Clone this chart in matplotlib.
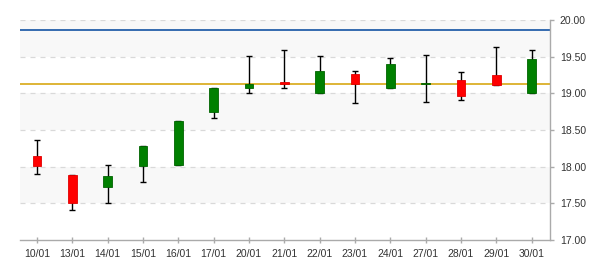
import matplotlib
matplotlib.use("Agg")
import matplotlib.pyplot as plt
from matplotlib.patches import Rectangle

dates = ["10/01", "13/01", "14/01", "15/01", "16/01", "17/01", "20/01", "21/01",
         "22/01", "23/01", "24/01", "27/01", "28/01", "29/01", "30/01"]
opens  = [18.15, 17.885, 17.716, 18.003, 18.016, 18.74, 19.068, 19.15, 19.0, 19.269, 19.068, 19.123, 19.187, 19.255, 19.0]
closes = [18.003, 17.50, 17.872, 18.286, 18.618, 19.078, 19.133, 19.123, 19.31, 19.123, 19.406, 19.146, 18.959, 19.109, 19.474]
highs  = [18.363, 17.885, 18.022, 18.286, 18.627, 19.078, 19.515, 19.593, 19.515, 19.306, 19.484, 19.525, 19.296, 19.634, 19.593]
lows   = [17.903, 17.407, 17.503, 17.79, 18.016, 18.664, 19.005, 19.074, 19.0, 18.869, 19.068, 18.883, 18.91, 19.109, 19.0]
line_blue = 19.866
line_gold = 19.128
y_ticks = [17.0, 17.5, 18.0, 18.5, 19.0, 19.5, 20.0]

plt.rcParams['font.family'] = ['Liberation Sans', 'DejaVu Sans']

fig = plt.figure(figsize=(6, 2.7), dpi=100)
ax = fig.add_axes([20/600, 1-240/270, 530/600, 220/270])
ax.set_xlim(-0.48, 14.52)
ax.set_ylim(17.0, 20.0)

# alternating bands
for i in range(len(y_ticks) - 1):
    lo, hi = y_ticks[i], y_ticks[i+1]
    if i % 2 == 1:
        ax.axhspan(lo, hi, color="#f8f8f8", zorder=0, lw=0)
for t in y_ticks[1:]:
    ax.axhline(t, color="#d9d9d9", lw=0.9, ls=(0, (4, 4)), zorder=1)

ax.axhline(line_blue, color="#00449c", lw=1.1, zorder=2)
ax.axhline(line_gold, color="#d4a000", lw=1.1, zorder=2)

w = 0.25
cap = 0.17
for i, (o, c, h, l) in enumerate(zip(opens, closes, highs, lows)):
    ax.vlines(i, l, h, color="black", lw=1, zorder=3)
    ax.hlines([h, l], i - cap/2, i + cap/2, color="black", lw=1, zorder=3)
    up = c >= o
    col = "#008000" if up else "#ff0000"
    ec = "#006400" if up else "#e00000"
    bot = min(o, c)
    hgt = max(abs(c - o), 0.02)
    ax.add_patch(Rectangle((i - w/2, bot), w, hgt, facecolor=col, edgecolor=ec,
                           lw=0.6, zorder=4))

ax.set_xticks(range(len(dates)))
ax.set_xticklabels(dates)
ax.yaxis.tick_right()
ax.set_yticks(y_ticks)
ax.set_yticklabels([f"{t:.2f}" for t in y_ticks])
ax.tick_params(axis="both", colors="#aaaaaa", labelcolor="#333333", labelsize=7.5,
               width=1)
ax.tick_params(axis="x", direction="inout", length=5, pad=4)
ax.tick_params(axis="y", length=3, pad=4)
for s in ["top", "left"]:
    ax.spines[s].set_visible(False)
for s in ["bottom", "right"]:
    ax.spines[s].set_color("#aaaaaa")
    ax.spines[s].set_linewidth(1)

fig.savefig("out.png", dpi=100)
